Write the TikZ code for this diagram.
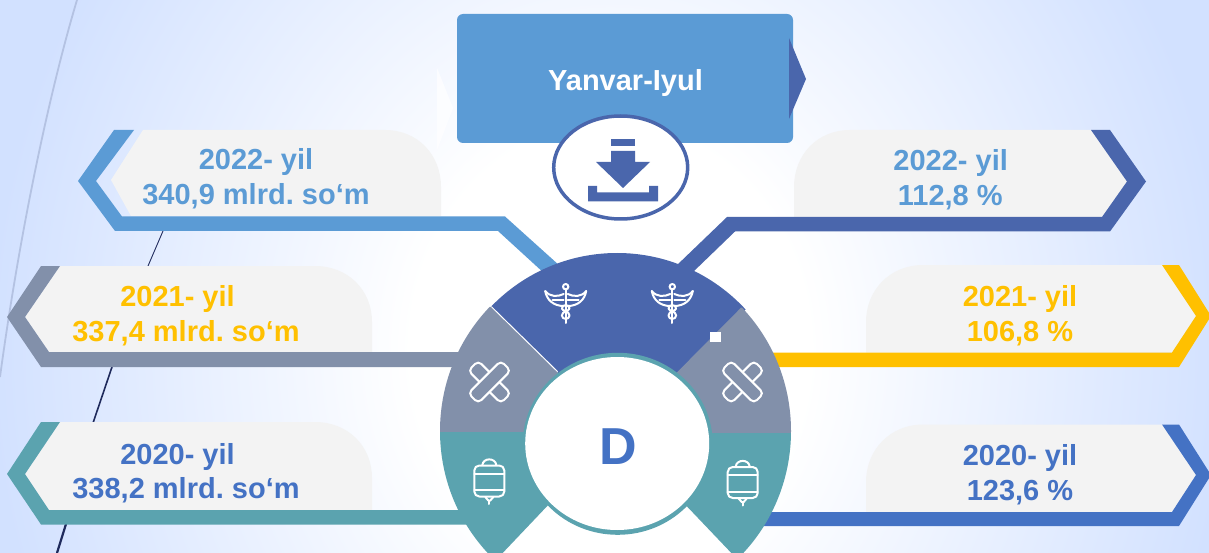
\documentclass[tikz,border=0pt]{standalone}
\usepackage{fontspec}
\setmainfont{Liberation Sans}
\frenchspacing
\definecolor{bgblue}{HTML}{D2E1FF}
\definecolor{cblue}{HTML}{5B9BD5}
\definecolor{cdark}{HTML}{4A66AC}
\definecolor{cgrey}{HTML}{8290AA}
\definecolor{cteal}{HTML}{5BA3AF}
\definecolor{cgold}{HTML}{FFC000}
\definecolor{croyal}{HTML}{4472C4}
\definecolor{ctag}{HTML}{F3F3F3}
\definecolor{cnavy}{HTML}{1F2A5C}
\definecolor{cpale}{HTML}{B4C2E2}
\pgfdeclareradialshading{bgshade}{\pgfpointorigin}{color(0bp)=(white); color(8bp)=(white); color(25bp)=(bgblue); color(50bp)=(bgblue)}
\tikzset{
  tagbody/.style={fill=ctag,draw=none},
  tagtext/.style={anchor=base,inner sep=0pt,font=\fontsize{29}{30}\selectfont\bfseries},
  icon/.style={draw=white,line width=2pt,line join=round,line cap=round,fill=none}
}
\newcommand{\caduicon}[2]{\begin{scope}[shift={(#1,#2)},icon]
  \draw (0,-18.3) circle[radius=2.7pt];
  \draw (0,-15.5) -- (0,18);
  \draw (-3.8,3.5) .. controls (-3.8,-1) and (3.8,-1) .. (3.8,3.5) .. controls (3.8,6) and (-3.8,6) .. (-3.8,10.5) .. controls (-3.8,15) and (3.8,15) .. (3.8,10.5) .. controls (3.8,6) and (-3.8,6) .. (-3.8,3.5);
  \draw (-20.5,-14) .. controls (-16,-8) and (-8,-8) .. (-2,-11);
  \draw (-20.5,-14) .. controls (-19,-5) and (-12,1) .. (-2,1);
  \draw (-13,-5) -- (-2,-5);
  \draw (20.5,-14) .. controls (16,-8) and (8,-8) .. (2,-11);
  \draw (20.5,-14) .. controls (19,-5) and (12,1) .. (2,1);
  \draw (13,-5) -- (2,-5);
\end{scope}}
\newcommand{\bandicon}[4]{\begin{scope}[shift={(#1,#2)}]
  \draw[icon,rotate=#4,rounded corners=4.5pt] (-23,-7) rectangle (23,7);
  \draw[icon,fill=#3,rotate=#4+90,rounded corners=4.5pt] (-23,-7) rectangle (23,7);
\end{scope}}
\newcommand{\bagicon}[2]{\begin{scope}[shift={(#1,#2)},icon]
  \draw[rounded corners=5pt] (-15,-15) rectangle (15,16);
  \draw (-7,-15.5) .. controls (-6,-23) and (6,-23) .. (7,-15.5);
  \draw (-15,-7) -- (15,-7);
  \draw (-15,9.5) -- (15,9.5);
  \draw (-4,16.5) -- (-1,20) -- (1,20) -- (4,16.5);
  \draw (0,20) -- (0,23.5);
\end{scope}}
\begin{document}
\begin{tikzpicture}[x=1pt,y=-1pt]
\useasboundingbox (0,0) rectangle (1209,553);
\clip (0,0) rectangle (1209,553);
% background
\shade[shading=bgshade] (-10,-350) rectangle (1230,1050);
% decorative curves
\draw[cpale,line width=1.8pt] (77,0) .. controls (50,90) and (20,230) .. (0,377);
\draw[cnavy,line width=0.9pt] (163,231) -- (148,266);
\draw[cnavy,line width=1.6pt] (112,367) -- (93,423);
\draw[cnavy,line width=2.2pt] (66,524) -- (57,553);
\fill[white,opacity=0.7] (437,68) -- (453,108) -- (437,150) -- cycle;
\fill[white] (792,425) rectangle (802,433);
\fill[white] (798,343) -- (805,349) -- (798,355) -- (791,349) -- cycle;
% left tag bodies
\fill[tagbody] (143,130) -- (385,130) .. controls (418,130) and (441,155) .. (441,187) -- (441,216) -- (131,216) -- (111,180) -- cycle;
\fill[tagbody] (60,266) -- (315,266) .. controls (348,266) and (372,290) .. (372,322) -- (372,352) -- (49,352) -- (25,317) -- cycle;
\fill[tagbody] (60,422) -- (315,422) .. controls (348,422) and (372,446) .. (372,478) -- (372,510) -- (49,510) -- (25,474) -- cycle;
% right tag bodies
\fill[tagbody] (1091,130) -- (850,130) .. controls (817,130) and (794,155) .. (794,187) -- (794,217) -- (1102,217) -- (1127,181.5) -- cycle;
\fill[tagbody] (1162,265) -- (923,265) .. controls (890,265) and (866,290) .. (866,322) -- (866,352.5) -- (1172,352.5) -- (1196,316) -- cycle;
\fill[tagbody] (1162,424.5) -- (923,424.5) .. controls (890,424.5) and (866,450) .. (866,482) -- (866,512) -- (1172,512) -- (1196,475) -- cycle;
% bands
\fill[cblue] (114,130) -- (134,130) -- (96,181) -- (122,216.5) -- (505,216.5) -- (560,266) -- (545,274) -- (498,231) -- (115,231) -- (78,181) -- cycle;
\fill[cgrey] (41,266) -- (60,266) -- (25,317) -- (49,352) -- (480,352) -- (480,367) -- (41,367) -- (7,317) -- cycle;
\fill[cteal] (41,422) -- (60,422) -- (25,474) -- (49,510) -- (490,510) -- (490,524.5) -- (41,524.5) -- (7,474) -- cycle;
\fill[cdark] (1091,130) -- (1110,130) -- (1146,181.5) -- (1110,231.5) -- (735,231.5) -- (692,273) -- (676,266) -- (727,217) -- (1102,217) -- (1127,181.5) -- cycle;
\fill[cgold] (1162,265) -- (1179,265) -- (1211,316) -- (1179,367) -- (760,367) -- (760,352.5) -- (1172,352.5) -- (1196,316) -- cycle;
\fill[croyal] (1162,424.5) -- (1179,424.5) -- (1211,475) -- (1179,526) -- (750,526) -- (750,512) -- (1172,512) -- (1196,475) -- cycle;
% wheel sectors
\begin{scope}
  \clip (617.5,432) -- (491.7,307) -- (491.7,240) -- (748,240) -- (748,307) -- (740,315) -- (640,415) -- cycle;
  \fill[cdark] (617,431) ellipse[x radius=176pt,y radius=178pt];
\end{scope}
\begin{scope}
  \clip (615.5,432) -- (430,432) -- (420,300) -- (491.7,307) -- (617.5,432) -- cycle;
  \fill[cgrey] (615.5,431) ellipse[x radius=175.5pt,y radius=178pt];
\end{scope}
\begin{scope}
  \clip (617,433) -- (741,307.7) -- (810,300) -- (810,433) -- cycle;
  \fill[cgrey] (615.5,431) ellipse[x radius=175.5pt,y radius=178pt];
\end{scope}
\begin{scope}
  \clip (617.5,432) -- (430,432) -- (430,553) -- (496,560) -- (617.5,432) -- cycle;
  \fill[cteal] (615.5,431) ellipse[x radius=175.5pt,y radius=178pt];
\end{scope}
\begin{scope}
  \clip (617,433) -- (800,433) -- (800,560) -- (738,560) -- (617,433) -- cycle;
  \fill[cteal] (615.5,431) ellipse[x radius=175.5pt,y radius=178pt];
\end{scope}
\draw[white,line width=1pt] (491.7,307) -- (557.7,371.7);
\fill[white] (710,332) rectangle (721,342);
% hub
\fill[cteal] (617.7,443.8) ellipse[x radius=95pt,y radius=91pt];
\fill[white] (617.2,443.5) ellipse[x radius=92pt,y radius=86.5pt];
\node[anchor=base,inner sep=0pt,text=croyal,font=\fontsize{52}{54}\selectfont\bfseries] (hub) at (618,464.3) {D};
% icons
\caduicon{565.7}{305}
\caduicon{672.3}{305}
\bandicon{489.5}{382}{cgrey}{-45}
\bandicon{742.5}{382}{cgrey}{45}
\bagicon{489.3}{480.5}
\bagicon{742.7}{482}
% top box
\fill[cblue,rounded corners=6pt] (457,14) rectangle (793,143);
\fill[cdark] (789,38) -- (806,79) -- (789,119) -- cycle;
\node[anchor=base,inner sep=0pt,text=white,font=\fontsize{29}{30}\selectfont\bfseries] (period) at (625.5,91) {Yanvar-Iyul};
\draw[cdark,fill=white,line width=3.5pt] (620.7,167.5) ellipse[x radius=67pt,y radius=51.5pt];
\node[inner sep=0pt] (dlcenter) at (620.7,167.5) {};
\fill[cdark] (611,139) rectangle (635,146);
\fill[cdark] (611,151) -- (635,151) -- (635,162) -- (650,162) -- (623,188) -- (596,162) -- (611,162) -- cycle;
\fill[cdark] (588,186) -- (597,186) -- (597,192.5) -- (649,192.5) -- (649,186) -- (658,186) -- (658,201.5) -- (588,201.5) -- cycle;
% texts
\node[tagtext,text=cblue] (l1a) at (256,169.6) {2022- yil};
\node[tagtext,text=cblue] (l1b) at (256,204.5) {340,9 mlrd. so‘m};
\node[tagtext,text=cgold] (l2a) at (177.5,306) {2021- yil};
\node[tagtext,text=cgold] (l2b) at (186,341) {337,4 mlrd. so‘m};
\node[tagtext,text=croyal] (l3a) at (177.5,464) {2020- yil};
\node[tagtext,text=croyal] (l3b) at (186,498) {338,2 mlrd. so‘m};
\node[tagtext,text=cblue] (r1a) at (950.7,171) {2022- yil};
\node[tagtext,text=cblue] (r1b) at (950.3,206) {112,8 \%};
\node[tagtext,text=cgold] (r2a) at (1020,306) {2021- yil};
\node[tagtext,text=cgold] (r2b) at (1020,341) {106,8 \%};
\node[tagtext,text=croyal] (r3a) at (1020,465) {2020- yil};
\node[tagtext,text=croyal] (r3b) at (1020,500) {123,6 \%};
\end{tikzpicture}
\end{document}
